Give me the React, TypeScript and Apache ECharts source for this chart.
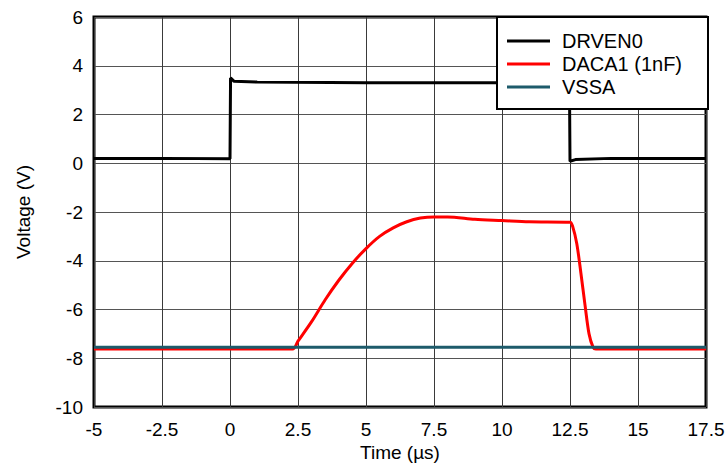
import React, { useEffect, useRef } from "react";
import * as echarts from "echarts";

// Time axis ticks (µs) and voltage ticks (V)
const timeTicks = [-5, -2.5, 0, 2.5, 5, 7.5, 10, 12.5, 15, 17.5];
const voltTicks = [-10, -8, -6, -4, -2, 0, 2, 4, 6];

const seriesNames = ["DRVEN0", "DACA1 (1nF)", "VSSA"];
const seriesColors = ["#000000", "#ff0000", "#1d5b6b"];

// [time µs, voltage V]
const drven0: [number, number][] = [
  [-5, 0.2], [-2.5, 0.2], [0, 0.18], [0.02, 3.5], [0.15, 3.36], [1, 3.33],
  [5, 3.3], [10, 3.3], [12.48, 3.3], [12.5, 0.08], [12.7, 0.15],
  [14, 0.2], [17.5, 0.2],
];

const daca1: [number, number][] = [
  [-5, -7.62], [2.3, -7.62], [2.5, -7.3], [3.0, -6.5], [3.5, -5.6],
  [4.0, -4.8], [4.5, -4.1], [5.0, -3.5], [5.5, -3.0], [6.0, -2.65],
  [6.5, -2.4], [7.0, -2.25], [7.5, -2.2], [8.0, -2.2], [9.0, -2.3],
  [10, -2.35], [11, -2.4], [12.5, -2.42], [12.6, -2.6], [12.75, -3.3],
  [12.9, -4.5], [13.05, -5.8], [13.2, -7.0], [13.35, -7.55], [13.45, -7.62],
  [17.5, -7.62],
];

const vssa: [number, number][] = [
  [-5, -7.55], [2.5, -7.55], [10, -7.55], [17.5, -7.55],
];

const FONT = "'Liberation Sans', Arial, sans-serif";
const AXIS_FONT_SIZE = 19;

export default function App() {
  const ref = useRef<HTMLDivElement>(null);

  useEffect(() => {
    if (!ref.current) return;
    const chart = echarts.init(ref.current, null, { renderer: "svg" });
    const datasets = [drven0, daca1, vssa];
    chart.setOption({
      animation: false,
      backgroundColor: "#ffffff",
      textStyle: { fontFamily: FONT, color: "#000" },
      grid: {
        left: 94,
        right: 22,
        top: 17,
        bottom: 57,
        outerBoundsMode: "none",
        show: true,
        borderColor: "#000",
        borderWidth: 3,
      },
      legend: {
        orient: "vertical",
        left: 497,
        top: 17,
        icon: "rect",
        itemWidth: 43,
        itemHeight: 3,
        itemGap: 3,
        padding: [14, 13, 12, 10],
        backgroundColor: "#ffffff",
        borderColor: "#000",
        borderWidth: 2,
        borderRadius: 0,
        textStyle: {
          fontFamily: FONT,
          fontSize: 20,
          lineHeight: 20,
          color: "#000",
          width: 133,
          padding: [0, 0, 0, 7],
        },
        data: seriesNames,
        z: 10,
      },
      xAxis: {
        type: "value",
        min: timeTicks[0],
        max: timeTicks[timeTicks.length - 1],
        interval: 2.5,
        name: "Time (µs)",
        nameLocation: "middle",
        nameGap: 36,
        nameMoveOverlap: false,
        nameTextStyle: { fontFamily: FONT, fontSize: AXIS_FONT_SIZE, color: "#000" },
        axisLine: { show: false },
        axisTick: { show: false },
        axisLabel: {
          fontFamily: FONT,
          fontSize: AXIS_FONT_SIZE,
          color: "#000",
          margin: 13,
          formatter: (v: number) => String(v),
        },
        splitLine: { show: true, lineStyle: { color: "#3a3a3a", width: 1 } },
      },
      yAxis: {
        type: "value",
        min: voltTicks[0],
        max: voltTicks[voltTicks.length - 1],
        interval: 2,
        name: "Voltage (V)",
        nameLocation: "middle",
        nameGap: 61,
        nameMoveOverlap: false,
        nameTextStyle: { fontFamily: FONT, fontSize: AXIS_FONT_SIZE, color: "#000" },
        axisLine: { show: false },
        axisTick: { show: false },
        axisLabel: {
          fontFamily: FONT,
          fontSize: AXIS_FONT_SIZE,
          color: "#000",
          margin: 11,
        },
        splitLine: { show: true, lineStyle: { color: "#555555", width: 1 } },
      },
      series: seriesNames.map((name, i) => ({
        name,
        type: "line",
        data: datasets[i],
        showSymbol: false,
        symbol: "none",
        smooth: i === 1 ? 0.3 : false,
        color: seriesColors[i],
        lineStyle: { color: seriesColors[i], width: 3 },
        z: i === 2 ? 4 : 3,
      })),
    });
    return () => chart.dispose();
  }, []);

  return (
    <div
      ref={ref}
      style={{ position: "absolute", left: 0, top: 0, width: 728, height: 464 }}
    />
  );
}
